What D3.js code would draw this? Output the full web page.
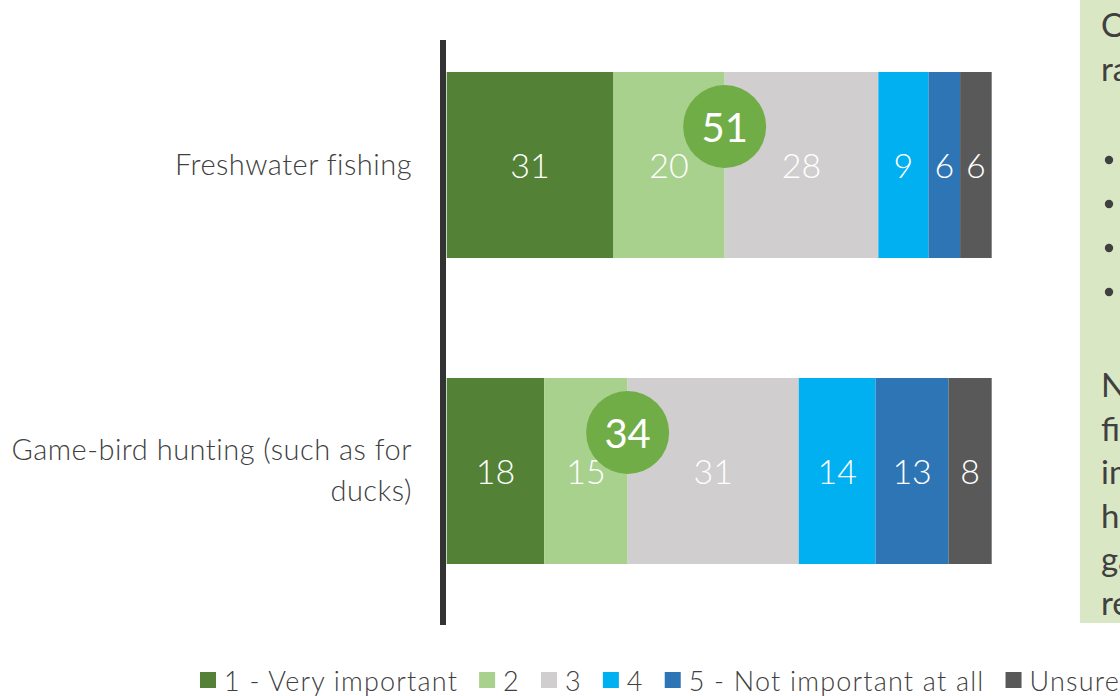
<!DOCTYPE html>
<html><head><meta charset="utf-8">
<script src="https://cdn.jsdelivr.net/npm/d3@7"></script>
<style>
html,body{margin:0;padding:0;background:#fff;overflow:hidden;}
svg{display:block;}
</style>
</head><body>
<svg id="chart" width="1120" height="696"></svg>
<script>
// ---- data ----
const categories = ["Freshwater fishing", "Game-bird hunting (such as for ducks)"];
const categoryLines = [["Freshwater fishing"], ["Game-bird hunting (such as for", "ducks)"]];
const seriesNames = ["1 - Very important", "2", "3", "4", "5 - Not important at all", "Unsure"];
const veryImportant = [30.6, 17.9];
const rating2 = [20.4, 15.3];
const rating3 = [28.2, 31.4];
const rating4 = [9.2, 14.1];
const notImportant = [5.8, 13.4];
const unsure = [5.8, 7.9];
const topTwo = [51, 34];
const seriesColors = ["#538135", "#a9d18e", "#d0cece", "#00b0f0", "#2e75b6", "#595959"];
const noteLines = [
  {t:"Overall, these activities were", b:false},
  {t:"rated as follows:", b:false},
  {t:"", b:false},
  {t:"Freshwater fishing", b:true},
  {t:"Game-bird hunting", b:true},
  {t:"Important to most", b:true},
  {t:"Unsure for few", b:true},
  {t:"", b:false},
  {t:"Nearly all rated freshwater", b:false},
  {t:"fishing as more", b:false},
  {t:"important than game-bird", b:false},
  {t:"hunting; fewer rated", b:false},
  {t:"game-bird hunting as", b:false},
  {t:"relevant.", b:false}
];

const allSeries = [veryImportant, rating2, rating3, rating4, notImportant, unsure];
const rows = categories.map((c, i) => {
  const r = {category: c};
  seriesNames.forEach((s, j) => r[s] = allSeries[j][i]);
  return r;
});

const svg = d3.select("#chart");
const FONT = "Lato, 'Open Sans', sans-serif";

const x = d3.scaleLinear().domain([0, 100]).range([446.7, 991.7]);
const y = d3.scaleBand().domain(categories).range([12, 624]).paddingInner(120/306).paddingOuter(60/306);
const color = d3.scaleOrdinal().domain(seriesNames).range(seriesColors);

const stack = d3.stack().keys(seriesNames);
const stacked = stack(rows);

// text box (right)
svg.append("rect").attr("x", 1080).attr("y", 0).attr("width", 60).attr("height", 623).attr("fill", "#d9e7c4");
const noteG = svg.append("g");
noteLines.forEach((l, i) => {
  const yy = i < 8 ? 37 + i * 44 : 397 + (i - 8) * 43.5;
  if (l.b) {
    noteG.append("circle").attr("cx", 1109).attr("cy", yy - 9).attr("r", 4.2).attr("fill", "#404040");
    noteG.append("text").attr("x", 1136).attr("y", yy).text(l.t)
      .attr("font-family", FONT).attr("font-size", 33).attr("fill", "#404040");
  } else if (l.t) {
    noteG.append("text").attr("x", 1101).attr("y", yy).text(l.t)
      .attr("font-family", FONT).attr("font-size", 33).attr("fill", "#404040");
  }
});

// bars
const layers = svg.append("g").selectAll("g").data(stacked).join("g")
  .attr("fill", d => color(d.key));
layers.selectAll("rect").data(d => d.map(v => ({v, key: d.key}))).join("rect")
  .attr("x", d => x(d.v[0]))
  .attr("y", d => y(d.v.data.category))
  .attr("width", d => x(d.v[1]) - x(d.v[0]))
  .attr("height", y.bandwidth());

// bar labels
const labG = svg.append("g");
stacked.forEach(layer => {
  layer.forEach(v => {
    labG.append("text")
      .attr("x", (x(v[0]) + x(v[1])) / 2)
      .attr("y", y(v.data.category) + y.bandwidth() / 2 - 1)
      .attr("text-anchor", "middle").attr("dominant-baseline", "central")
      .attr("font-family", FONT).attr("font-weight", 300).attr("font-size", 34)
      .attr("fill", "#ffffff")
      .text(Math.round(v[1] - v[0]));
  });
});

// top-two circles
const circG = svg.append("g");
rows.forEach((r, i) => {
  const cx = x(stacked[1][i][1]);
  const cy = y(r.category) + y.bandwidth() * 0.293;
  circG.append("circle").attr("cx", cx).attr("cy", cy).attr("r", 41.5).attr("fill", "#70ad47");
  circG.append("text").attr("x", cx).attr("y", cy + 1)
    .attr("text-anchor", "middle").attr("dominant-baseline", "central")
    .attr("font-family", FONT).attr("font-size", 40).attr("fill", "#ffffff")
    .text(topTwo[i]);
});

// axis line
svg.append("line").attr("x1", 443).attr("x2", 443).attr("y1", 40).attr("y2", 625)
  .attr("stroke", "#333333").attr("stroke-width", 6);

// category labels
const catG = svg.append("g");
categories.forEach((c, i) => {
  const lines = categoryLines[i];
  const cy = y(c) + y.bandwidth() / 2 - 2;
  const lh = 41;
  lines.forEach((ln, k) => {
    catG.append("text")
      .attr("x", 412)
      .attr("y", cy + (k - (lines.length - 1) / 2) * lh)
      .attr("text-anchor", "end").attr("dominant-baseline", "central")
      .attr("font-family", FONT).attr("font-weight", 300).attr("font-size", 29)
      .attr("letter-spacing", 0.5)
      .attr("fill", "#404040").text(ln);
  });
});

// legend
const legG = svg.append("g");
let lx = 200;
seriesNames.forEach((s, i) => {
  legG.append("rect").attr("x", lx).attr("y", 672).attr("width", 16).attr("height", 16).attr("fill", color(s));
  const t = legG.append("text").attr("x", lx + 24).attr("y", 680)
    .attr("dominant-baseline", "central")
    .attr("font-family", FONT).attr("font-weight", 300).attr("font-size", 27)
    .attr("letter-spacing", 1.2)
    .attr("fill", "#404040").text(s);
  lx += 24 + t.node().getComputedTextLength() + 21;
});
</script>
</body></html>
